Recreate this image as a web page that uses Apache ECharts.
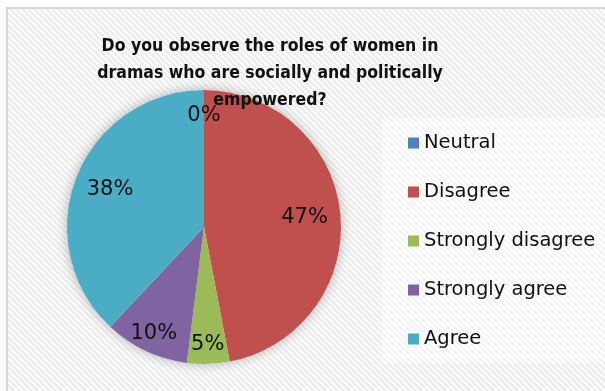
<!DOCTYPE html>
<html>
<head>
<meta charset="utf-8">
<script src="https://cdn.jsdelivr.net/npm/echarts@6/dist/echarts.min.js"></script>
<style>
  html, body { margin: 0; padding: 0; background: #ffffff; }
  #chart { width: 605px; height: 391px; }
</style>
</head>
<body>
<div id="chart"></div>
<script>
// Survey answers, percent of respondents
const categories = ['Neutral', 'Disagree', 'Strongly disagree', 'Strongly agree', 'Agree'];
const values = [0, 47, 5, 10, 38];
const colors = ['#4F81BD', '#C0504D', '#9BBB59', '#8064A2', '#4BACC6'];

const titleText = 'Do you observe the roles of women in\ndramas who are socially and politically\nempowered?';

// label ring per answer: [inner, outer] radius, label sits halfway
const labelRings = {
  near: { ring: [64, 132], names: ['Disagree', 'Agree'] },
  mid: { ring: [84, 132], names: ['Neutral'] },
  far: { ring: [92, 138], names: ['Strongly disagree', 'Strongly agree'] }
};

// diagonal stripe tile for the chart area background
function stripeTile() {
  const n = 6;
  const c = document.createElement('canvas');
  c.width = n; c.height = n;
  const ctx = c.getContext('2d');
  ctx.fillStyle = '#fbfbfb';
  ctx.fillRect(0, 0, n, n);
  ctx.fillStyle = '#ececec';
  for (let y = 0; y < n; y++) {
    for (let x = 0; x < n; x++) {
      if (((x - y) % n + n) % n < 3) ctx.fillRect(x, y, 1, 1);
    }
  }
  return c;
}

const chart = echarts.init(document.getElementById('chart'), null, { renderer: 'canvas' });

const center = [204, 227];
const R = 137;
const labelFont = { fontFamily: 'DejaVu Sans', fontSize: 21, color: '#111111' };

function labelSeries(group) {
  return {
    type: 'pie',
    center: center,
    radius: group.ring,
    startAngle: 90,
    clockwise: true,
    silent: true,
    z: 5,
    itemStyle: { color: 'rgba(0,0,0,0)' },
    emphasis: { disabled: true },
    labelLine: { show: false },
    data: categories.map((name, i) => ({
      name: name,
      value: values[i],
      label: {
        show: group.names.includes(name),
        position: 'inside',
        formatter: values[i] + '%',
        ...labelFont
      }
    }))
  };
}

chart.setOption({
  animation: false,
  graphic: [
    {
      type: 'rect',
      z: -10,
      shape: { x: 7, y: 8, width: 620, height: 400 },
      style: { fill: { image: stripeTile(), repeat: 'repeat' }, stroke: '#d6d6d6', lineWidth: 2 }
    },
    {
      type: 'rect',
      z: -9,
      shape: { x: 382, y: 118, width: 240, height: 245 },
      style: { fill: 'rgba(255,255,255,0.45)' }
    }
  ],
  title: {
    text: titleText,
    left: 265,
    top: 28,
    textAlign: 'center',
    textStyle: {
      fontFamily: 'DejaVu Sans Condensed',
      fontWeight: 'bold',
      fontSize: 17.5,
      lineHeight: 27,
      color: '#111111'
    }
  },
  legend: {
    orient: 'vertical',
    left: 403,
    top: 128,
    itemWidth: 11,
    itemHeight: 11,
    itemGap: 29,
    icon: 'rect',
    selectedMode: false,
    data: categories.map((name, i) => ({ name: name, itemStyle: { color: colors[i] } })),
    textStyle: { fontFamily: 'DejaVu Sans', fontSize: 19.5, lineHeight: 20, color: '#111111' }
  },
  series: [
    {
      // main pie
      type: 'pie',
      center: center,
      radius: [0, R],
      startAngle: 90,
      clockwise: true,
      z: 3,
      label: { show: false },
      labelLine: { show: false },
      emphasis: { disabled: true },
      data: categories.map((name, i) => ({ name: name, value: values[i], itemStyle: { color: colors[i] } }))
    },
    {
      // soft shadow under the pie
      type: 'pie',
      center: center,
      radius: [0, R],
      silent: true,
      z: 1,
      label: { show: false },
      labelLine: { show: false },
      emphasis: { disabled: true },
      itemStyle: { color: '#ffffff', shadowBlur: 12, shadowColor: 'rgba(0,0,0,0.28)' },
      data: [{ value: 1, name: '' }]
    },
    labelSeries(labelRings.near),
    labelSeries(labelRings.mid),
    labelSeries(labelRings.far)
  ]
});
</script>
</body>
</html>
